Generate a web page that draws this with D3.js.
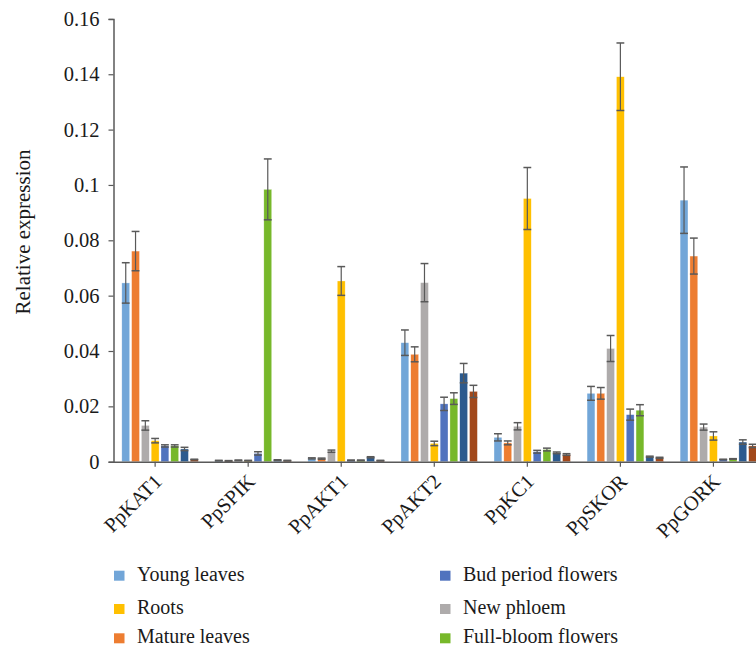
<!DOCTYPE html>
<html>
<head>
<meta charset="utf-8">
<script src="https://cdn.jsdelivr.net/npm/d3@7"></script>
<style>
  html, body { margin: 0; padding: 0; background: #fff; }
  svg text { font-family: "Liberation Serif", "DejaVu Serif", serif !important; fill: #1a1a1a; }
</style>
</head>
<body>
<svg id="chart" width="756" height="650"></svg>
<script>
// ---------- data ----------
const categories = ["PpKAT1", "PpSPIK", "PpAKT1", "PpAKT2", "PpKC1", "PpSKOR", "PpGORK"];

const seriesNames = ["Young leaves", "Mature leaves", "New phloem", "Roots",
                     "Bud period flowers", "Full-bloom flowers", "Series 7", "Series 8"];
const seriesColors = ["#72A6D8", "#ED7D31", "#AEABAB", "#FFC000",
                      "#5073BE", "#77B82A", "#2C5A8E", "#A2481A"];

const youngLeaves       = [0.0646, 0.0004, 0.0012, 0.0430, 0.0088, 0.0247, 0.0945];
const youngLeavesErr    = [0.0073, 0.0001, 0.0002, 0.0046, 0.0013, 0.0025, 0.0120];
const matureLeaves      = [0.0761, 0.0003, 0.0011, 0.0388, 0.0068, 0.0247, 0.0743];
const matureLeavesErr   = [0.0071, 0.0001, 0.0002, 0.0027, 0.0007, 0.0021, 0.0065];
const newPhloem         = [0.0131, 0.0005, 0.0038, 0.0647, 0.0128, 0.0409, 0.0125];
const newPhloemErr      = [0.0017, 0.0001, 0.0004, 0.0069, 0.0013, 0.0047, 0.0011];
const roots             = [0.0076, 0.0004, 0.0653, 0.0066, 0.0951, 0.1391, 0.0093];
const rootsErr          = [0.0008, 0.0001, 0.0052, 0.0008, 0.0112, 0.0122, 0.0015];
const budFlowers        = [0.0057, 0.0030, 0.0005, 0.0209, 0.0036, 0.0170, 0.0008];
const budFlowersErr     = [0.0004, 0.0006, 0.0001, 0.0024, 0.0005, 0.0020, 0.0001];
const fullBloomFlowers  = [0.0057, 0.0984, 0.0005, 0.0228, 0.0044, 0.0186, 0.0010];
const fullBloomErr      = [0.0004, 0.0110, 0.0001, 0.0021, 0.0005, 0.0020, 0.0001];
const series7           = [0.0046, 0.0006, 0.0016, 0.0320, 0.0032, 0.0018, 0.0071];
const series7Err        = [0.0006, 0.0001, 0.0002, 0.0035, 0.0003, 0.0002, 0.0008];
const series8           = [0.0008, 0.0004, 0.0004, 0.0254, 0.0026, 0.0014, 0.0057];
const series8Err        = [0.0001, 0.0001, 0.0001, 0.0022, 0.0003, 0.0002, 0.0006];

const yTickValues = [0, 0.02, 0.04, 0.06, 0.08, 0.1, 0.12, 0.14, 0.16];
const yTickLabels = ["0", "0.02", "0.04", "0.06", "0.08", "0.1", "0.12", "0.14", "0.16"];

// legend order as in the picture (column-wise)
const legendOrder = ["Young leaves", "Roots", "Mature leaves",
                     "Bud period flowers", "New phloem", "Full-bloom flowers"];

// ---------- build table ----------
const values = [youngLeaves, matureLeaves, newPhloem, roots, budFlowers, fullBloomFlowers, series7, series8];
const errors = [youngLeavesErr, matureLeavesErr, newPhloemErr, rootsErr, budFlowersErr, fullBloomErr, series7Err, series8Err];
const rows = [];
categories.forEach((c, ci) => {
  seriesNames.forEach((s, si) => {
    rows.push({cat: c, series: s, color: seriesColors[si], v: values[si][ci], e: errors[si][ci]});
  });
});

// ---------- layout ----------
const svg = d3.select("#chart");
const plotLeft = 113.5, plotBottom = 461.7, plotTop = 18.9;
const catStep = 93.05;
const serif = '"Liberation Serif", "DejaVu Serif", serif';

const x = d3.scaleBand().domain(categories)
  .range([plotLeft, plotLeft + catStep * categories.length]).padding(0);
const xInner = d3.scaleBand().domain(seriesNames)
  .range([0, x.bandwidth()]).paddingInner(0.2).paddingOuter(0.85);
const y = d3.scaleLinear().domain([0, 0.16]).range([plotBottom, plotTop]);

const axisColor = "#595959";

// bars
const groups = svg.append("g").selectAll("g")
  .data(categories).join("g")
  .attr("transform", d => `translate(${x(d)},0)`);

groups.selectAll("rect")
  .data(c => rows.filter(r => r.cat === c))
  .join("rect")
  .attr("x", d => xInner(d.series))
  .attr("width", xInner.bandwidth())
  .attr("y", d => y(d.v))
  .attr("height", d => y(0) - y(d.v))
  .attr("fill", d => d.color)
  .attr("stroke", "#fff")
  .attr("stroke-opacity", 0.6)
  .attr("stroke-width", 0.5);

// error bars
const eb = groups.selectAll("g.err")
  .data(c => rows.filter(r => r.cat === c))
  .join("g").attr("class", "err")
  .attr("stroke", axisColor).attr("stroke-width", 1.2).attr("fill", "none");
eb.append("line")
  .attr("x1", d => xInner(d.series) + xInner.bandwidth() / 2)
  .attr("x2", d => xInner(d.series) + xInner.bandwidth() / 2)
  .attr("y1", d => y(d.v + d.e))
  .attr("y2", d => y(Math.max(0, d.v - d.e)));
eb.append("line")
  .attr("x1", d => xInner(d.series))
  .attr("x2", d => xInner(d.series) + xInner.bandwidth())
  .attr("y1", d => y(d.v + d.e)).attr("y2", d => y(d.v + d.e))
  .attr("stroke-width", 1.5);
eb.append("line")
  .attr("x1", d => xInner(d.series))
  .attr("x2", d => xInner(d.series) + xInner.bandwidth())
  .attr("y1", d => y(Math.max(0, d.v - d.e))).attr("y2", d => y(Math.max(0, d.v - d.e)))
  .attr("stroke-width", 1.5);

// y axis
const yAxis = svg.append("g")
  .attr("transform", `translate(${plotLeft},0)`)
  .call(d3.axisLeft(y).tickValues(yTickValues)
    .tickFormat((d, i) => yTickLabels[i]).tickSize(5).tickPadding(9));
yAxis.attr("font-family", serif);
yAxis.select(".domain").attr("stroke", axisColor).attr("stroke-width", 1.5);
yAxis.selectAll(".tick line").attr("stroke", axisColor).attr("stroke-width", 1.2);
yAxis.selectAll(".tick text").attr("font-size", 20.5).attr("fill", "#1a1a1a")
  .style("font-family", serif);

// x axis
const xAxis = svg.append("g")
  .attr("transform", `translate(0,${plotBottom})`)
  .call(d3.axisBottom(x).tickSize(5).tickSizeOuter(0));
xAxis.attr("font-family", serif);
xAxis.select(".domain").attr("stroke", axisColor).attr("stroke-width", 1.5);
xAxis.selectAll(".tick")
  .attr("transform", d => `translate(${x(d) + x.bandwidth() / 2 - xInner.step() / 2},0)`);
xAxis.selectAll(".tick line").attr("stroke", axisColor).attr("stroke-width", 1.2);
xAxis.selectAll(".tick text")
  .attr("font-size", 20.5).attr("fill", "#1a1a1a")
  .style("font-family", serif)
  .attr("text-anchor", "end")
  .attr("dy", 0)
  .attr("transform", "translate(8,21) rotate(-45)")
  .attr("y", 0).attr("x", 0);

// y title
svg.append("text")
  .attr("transform", `translate(30,232) rotate(-90)`)
  .attr("text-anchor", "middle")
  .attr("font-size", 21)
  .style("font-family", serif)
  .text("Relative expression");

// legend
const legendCols = [114, 440];
const legendRows = [580.7, 614, 643.3];
const legend = svg.append("g");
legendOrder.forEach((name, i) => {
  const col = Math.floor(i / 3), row = i % 3;
  const idx = seriesNames.indexOf(name);
  const g = legend.append("g").attr("transform", `translate(${legendCols[col]},${legendRows[row]})`);
  g.append("rect").attr("x", 0).attr("y", -10).attr("width", 10.5).attr("height", 10)
    .attr("fill", seriesColors[idx]);
  g.append("text").attr("x", 23).attr("y", 0).attr("font-size", 20)
    .style("font-family", serif).text(name);
});
</script>
</body>
</html>
